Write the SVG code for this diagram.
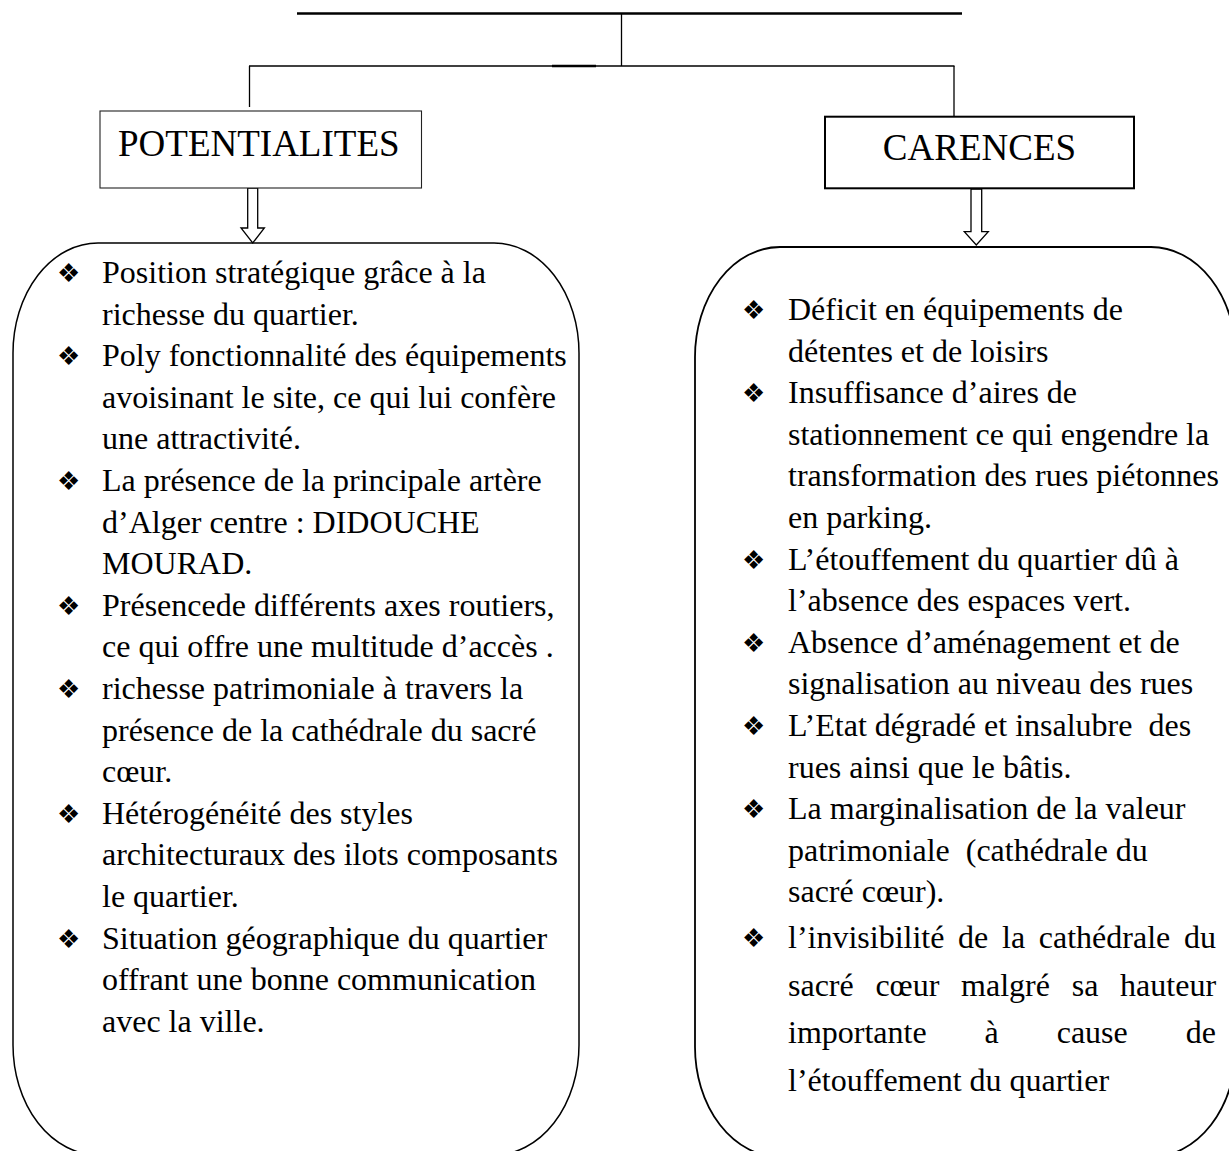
<svg xmlns="http://www.w3.org/2000/svg" width="1229" height="1151" viewBox="0 0 1229 1151">
<style>
.t{font-family:"Liberation Serif","Times New Roman",serif;font-size:32px;fill:#000;white-space:pre}
.h{font-family:"Liberation Serif","Times New Roman",serif;font-size:37px;fill:#000}
.b{font-family:"DejaVu Sans",sans-serif;font-size:26px;fill:#000}
.ln{stroke:#000;fill:none}
.arr{fill:#fff;stroke:#000;stroke-width:1.3}
</style>
<rect width="1229" height="1151" fill="#fff"/>
<g id="connectors">
<line class="ln" x1="297" y1="13.5" x2="962" y2="13.5" stroke-width="2.6"/>
<line class="ln" x1="621.5" y1="13" x2="621.5" y2="66" stroke-width="1.3"/>
<line class="ln" x1="249" y1="66" x2="954.5" y2="66" stroke-width="1.3"/>
<line class="ln" x1="552" y1="66" x2="596" y2="66" stroke-width="2.4"/>
<line class="ln" x1="249.5" y1="66" x2="249.5" y2="107" stroke-width="1.3"/>
<line class="ln" x1="954" y1="66" x2="954" y2="116" stroke-width="1.3"/>
<path class="arr" d="M247.7,188 V228 H241 L252.7,243 L264.4,228 H257.7 V188 Z"/>
<path class="arr" d="M971,189 V231.7 H964.3 L976.3,245 L988.3,231.7 H981.7 V189 Z"/>
</g>
<g id="potentialites">
<rect x="100" y="111" width="321.5" height="77" fill="#fff" stroke="#222" stroke-width="1.1"/>
<text class="h" x="118" y="156">POTENTIALITES</text>
</g>
<g id="carences">
<rect x="825" y="116.7" width="309" height="71.6" fill="#fff" stroke="#000" stroke-width="2"/>
<text class="h" x="979.5" y="160" text-anchor="middle">CARENCES</text>
</g>
<g id="potentialites-list">
<path class="ln" stroke-width="1.5" d="M98,243 H494 A85,110 0 0 1 579,353 V1045 A85,110 0 0 1 494,1155 H98 A85,110 0 0 1 13,1045 V353 A85,110 0 0 1 98,243 Z"/>
<text class="b" x="57" y="282">❖</text>
<text class="b" x="57" y="365.2">❖</text>
<text class="b" x="57" y="490">❖</text>
<text class="b" x="57" y="614.8">❖</text>
<text class="b" x="57" y="698">❖</text>
<text class="b" x="57" y="822.8">❖</text>
<text class="b" x="57" y="947.6">❖</text>
<text class="t" x="102" y="283">Position stratégique grâce à la</text>
<text class="t" x="102" y="324.6">richesse du quartier.</text>
<text class="t" x="102" y="366.2">Poly fonctionnalité des équipements</text>
<text class="t" x="102" y="407.8">avoisinant le site, ce qui lui confère</text>
<text class="t" x="102" y="449.4">une attractivité.</text>
<text class="t" x="102" y="491">La présence de la principale artère</text>
<text class="t" x="102" y="532.6">d’Alger centre : DIDOUCHE</text>
<text class="t" x="102" y="574.2">MOURAD.</text>
<text class="t" x="102" y="615.8">Présencede différents axes routiers,</text>
<text class="t" x="102" y="657.4">ce qui offre une multitude d’accès .</text>
<text class="t" x="102" y="699">richesse patrimoniale à travers la</text>
<text class="t" x="102" y="740.6">présence de la cathédrale du sacré</text>
<text class="t" x="102" y="782.2">cœur.</text>
<text class="t" x="102" y="823.8">Hétérogénéité des styles</text>
<text class="t" x="102" y="865.4">architecturaux des ilots composants</text>
<text class="t" x="102" y="907">le quartier.</text>
<text class="t" x="102" y="948.6">Situation géographique du quartier</text>
<text class="t" x="102" y="990.2">offrant une bonne communication</text>
<text class="t" x="102" y="1031.8">avec la ville.</text>
</g>
<g id="carences-list">
<path class="ln" stroke-width="1.8" d="M780,247 H1151 A85,110 0 0 1 1236,357 V1047 A85,110 0 0 1 1151,1157 H780 A85,110 0 0 1 695,1047 V357 A85,110 0 0 1 780,247 Z"/>
<text class="b" x="742" y="319">❖</text>
<text class="b" x="742" y="402.2">❖</text>
<text class="b" x="742" y="568.6">❖</text>
<text class="b" x="742" y="651.8">❖</text>
<text class="b" x="742" y="735">❖</text>
<text class="b" x="742" y="818.2">❖</text>
<text class="b" x="742" y="947">❖</text>
<text class="t" x="788" y="320">Déficit en équipements de</text>
<text class="t" x="788" y="361.6">détentes et de loisirs</text>
<text class="t" x="788" y="403.2">Insuffisance d’aires de</text>
<text class="t" x="788" y="444.8">stationnement ce qui engendre la</text>
<text class="t" x="788" y="486.4">transformation des rues piétonnes</text>
<text class="t" x="788" y="528">en parking.</text>
<text class="t" x="788" y="569.6">L’étouffement du quartier dû à</text>
<text class="t" x="788" y="611.2">l’absence des espaces vert.</text>
<text class="t" x="788" y="652.8">Absence d’aménagement et de</text>
<text class="t" x="788" y="694.4">signalisation au niveau des rues</text>
<text class="t" x="788" y="736">L’Etat dégradé et insalubre  des</text>
<text class="t" x="788" y="777.6">rues ainsi que le bâtis.</text>
<text class="t" x="788" y="819.2">La marginalisation de la valeur</text>
<text class="t" x="788" y="860.8">patrimoniale  (cathédrale du</text>
<text class="t" x="788" y="902.4">sacré cœur).</text>
<text class="t" y="948"><tspan x="788">l’invisibilité</tspan><tspan x="958.1">de</tspan><tspan x="1002">la</tspan><tspan x="1038.8">cathédrale</tspan><tspan x="1184">du</tspan></text>
<text class="t" y="996"><tspan x="788">sacré</tspan><tspan x="875.4">cœur</tspan><tspan x="961.1">malgré</tspan><tspan x="1071.7">sa</tspan><tspan x="1120.1">hauteur</tspan></text>
<text class="t" y="1043"><tspan x="788">importante</tspan><tspan x="984.6">à</tspan><tspan x="1056.7">cause</tspan><tspan x="1185.7">de</tspan></text>
<text class="t" x="788" y="1091">l’étouffement du quartier</text>
</g>
</svg>
